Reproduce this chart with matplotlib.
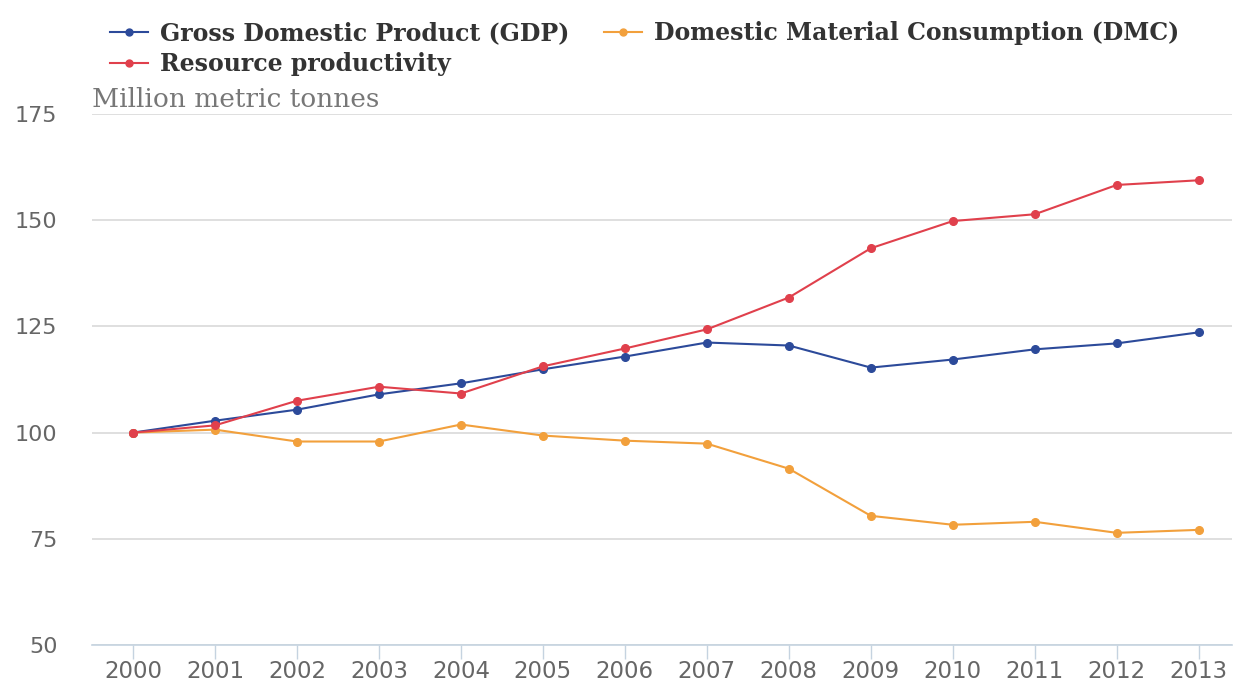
import numpy as np
import matplotlib.pyplot as plt
from matplotlib.lines import Line2D

years = np.arange(2000, 2014)
gdp = [100, 102.8, 105.4, 109.0, 111.6, 114.9, 117.9, 121.2, 120.5, 115.3, 117.2, 119.6, 121.0, 123.6]
dmc = [100, 100.7, 97.9, 97.9, 101.9, 99.3, 98.1, 97.4, 91.5, 80.4, 78.3, 79.0, 76.4, 77.1]
rp = [100, 101.7, 107.5, 110.8, 109.2, 115.6, 119.8, 124.3, 131.8, 143.4, 149.8, 151.4, 158.3, 159.4]

labels = ['Gross Domestic Product (GDP)', 'Domestic Material Consumption (DMC)', 'Resource productivity']
colors = ['#2c4a9a', '#f2a03c', '#e0404c']
yticks = [50, 75, 100, 125, 150, 175]

fig = plt.figure(figsize=(12.34, 6.86), dpi=100)
ax = fig.add_axes([0.0746, 0.0598, 0.9234, 0.774])

for vals, c, lab in zip([gdp, dmc, rp], colors, labels):
    ax.plot(years, vals, color=c, lw=1.5, marker='o', ms=5.5, label=lab, zorder=3)

ax.set_xlim(1999.5, 2013.4)
ax.set_ylim(50, 175)
ax.set_yticks(yticks)
ax.set_xticks(years)
ax.grid(axis='y', color='#d9d9d9', lw=1.2)
ax.set_axisbelow(True)
for s in ['top', 'right', 'left']:
    ax.spines[s].set_visible(False)
ax.spines['bottom'].set_color('#c5d3e0')
ax.spines['bottom'].set_linewidth(1.2)
ax.tick_params(axis='y', length=0, pad=25, labelsize=16, labelcolor='#666666')
ax.tick_params(axis='x', length=10, color='#c5d3e0', width=1, pad=1, labelsize=16.5, labelcolor='#666666')
for t in ax.get_xticklabels() + ax.get_yticklabels():
    t.set_family('DejaVu Sans')

ax.text(0, 1.003, 'Million metric tonnes', transform=ax.transAxes, fontsize=19,
        color='#777777', family='DejaVu Serif', va='bottom', ha='left')

# row-major order like the original: GDP, DMC / RP
order = [0, 2, 1]
handles = [Line2D([0], [0], color=colors[i], lw=1.5, marker='o', ms=5) for i in order]
fig.legend(handles, [labels[i] for i in order], loc='upper left', bbox_to_anchor=(0.072, 1.0), ncol=2,
           frameon=False, prop={'family': 'DejaVu Serif', 'weight': 'bold', 'size': 17},
           labelcolor='#333333', handlelength=1.6, handletextpad=0.5, columnspacing=1.5,
           labelspacing=0.3, borderaxespad=0.5)

plt.savefig('out.png', dpi=100)
